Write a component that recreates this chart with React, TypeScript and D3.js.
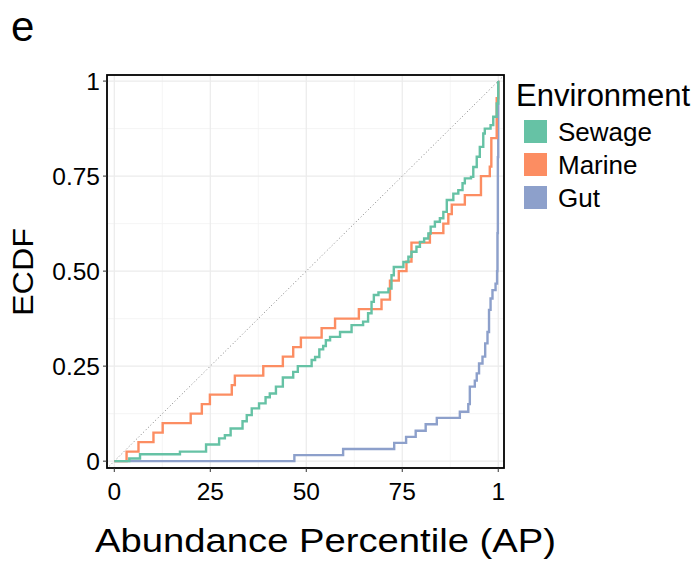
import React from "react";
import * as d3 from "d3";

// ---- Data ----
const xTickValues = [0, 25, 50, 75, 100];
const xTickLabels = ["0", "25", "50", "75", "1"];
const xMinorValues = [12.5, 37.5, 62.5, 87.5];
const yTickValues = [0, 0.25, 0.5, 0.75, 1];
const yTickLabels = ["0", "0.25", "0.50", "0.75", "1"];
const yMinorValues = [0.125, 0.375, 0.625, 0.875];

const environments = ["Sewage", "Marine", "Gut"];
const envColors = ["#66C2A5", "#FC8D62", "#8DA0CB"];

// ECDF step points: abundance percentile where the step occurs, ECDF after the step
const sewageAP = [0, 3.9, 6.7, 17.1, 23.9, 27.3, 28.8, 30.3, 33.4, 34.5, 35.8, 37.7, 39.4, 40.5, 42.1, 43.9, 46.6, 47.8, 51.4, 52.3, 53.4, 54.4, 55.1, 56.2, 58.8, 61.8, 64.8, 66.1, 67.0, 67.6, 68.8, 71.4, 72.2, 72.8, 75.3, 76.6, 77.4, 78.7, 79.6, 80.7, 81.8, 82.4, 83.5, 84.8, 85.7, 86.6, 88.3, 89.6, 90.7, 91.3, 92.9, 93.5, 94.4, 95.2, 96.1, 96.5, 98.0, 98.7, 99.6, 100];
const sewageECDF = [0, 0.007, 0.018, 0.025, 0.044, 0.06, 0.068, 0.086, 0.105, 0.121, 0.139, 0.152, 0.168, 0.178, 0.196, 0.22, 0.235, 0.25, 0.266, 0.274, 0.294, 0.303, 0.318, 0.327, 0.34, 0.358, 0.367, 0.389, 0.419, 0.437, 0.444, 0.454, 0.489, 0.511, 0.524, 0.538, 0.551, 0.564, 0.577, 0.586, 0.599, 0.617, 0.63, 0.639, 0.656, 0.687, 0.704, 0.713, 0.731, 0.744, 0.748, 0.774, 0.801, 0.827, 0.862, 0.875, 0.884, 0.906, 0.941, 1];

const marineAP = [0, 3.2, 6.3, 10.2, 12.6, 19.9, 22.8, 24.9, 30.6, 31.4, 38.8, 43.9, 46.6, 48.6, 54.0, 57.5, 63.7, 69.6, 71.8, 74.1, 76.1, 77.4, 82.2, 85.7, 87.0, 87.9, 91.3, 95.5, 97.8, 98.2, 99.6, 100];
const marineECDF = [0, 0.025, 0.05, 0.075, 0.1, 0.125, 0.15, 0.175, 0.2, 0.225, 0.25, 0.275, 0.3, 0.325, 0.35, 0.375, 0.4, 0.425, 0.475, 0.5, 0.525, 0.575, 0.6, 0.625, 0.65, 0.675, 0.7, 0.75, 0.775, 0.85, 0.955, 1];

const gutAP = [0, 46.9, 59.6, 72.9, 76.0, 78.5, 81.1, 84.0, 90.0, 92.2, 92.6, 93.9, 94.4, 95.0, 95.9, 96.6, 97.2, 97.6, 98.0, 98.5, 99.3, 99.7, 99.8, 99.9, 100];
const gutECDF = [0, 0.016, 0.032, 0.048, 0.064, 0.08, 0.097, 0.114, 0.13, 0.15, 0.196, 0.212, 0.231, 0.257, 0.275, 0.31, 0.34, 0.398, 0.428, 0.45, 0.467, 0.5, 0.6, 0.8, 1];

const seriesAP = [sewageAP, marineAP, gutAP];
const seriesECDF = [sewageECDF, marineECDF, gutECDF];

const FONT = "'Liberation Sans', Arial, Helvetica, sans-serif";

export default function App() {
  const W = 700, H = 562;
  const left = 107, right = 504, top = 75, bottom = 468;
  const x = d3.scaleLinear().domain([-1.9, 101.5]).range([left, right]);
  const y = d3.scaleLinear().domain([-0.018, 1.016]).range([bottom, top]);

  const line = d3
    .line<[number, number]>()
    .x((d) => x(d[0]))
    .y((d) => y(d[1]))
    .curve(d3.curveStepAfter);

  const straight = d3
    .line<[number, number]>()
    .x((d) => x(d[0]))
    .y((d) => y(d[1]));

  const [d0, d1] = x.domain();
  const ablinePts: [number, number][] = [
    [d0, d0 / 100],
    [d1, d1 / 100],
  ];

  // draw order: gut first, then marine, sewage on top
  const order = [2, 1, 0];

  return (
    <svg
      width={W}
      height={H}
      style={{ position: "absolute", left: 0, top: 0, background: "#fff" }}
      fontFamily={FONT}
    >
      <defs>
        <clipPath id="panel">
          <rect x={left} y={top} width={right - left} height={bottom - top} />
        </clipPath>
      </defs>
      <rect x={0} y={0} width={W} height={H} fill="#fff" />

      {/* grid */}
      <g stroke="#F2F2F2" strokeWidth={0.8}>
        {xMinorValues.map((v) => (
          <line key={"xm" + v} x1={x(v)} x2={x(v)} y1={top} y2={bottom} />
        ))}
        {yMinorValues.map((v) => (
          <line key={"ym" + v} x1={left} x2={right} y1={y(v)} y2={y(v)} />
        ))}
      </g>
      <g stroke="#EBEBEB" strokeWidth={1.2}>
        {xTickValues.map((v) => (
          <line key={"xg" + v} x1={x(v)} x2={x(v)} y1={top} y2={bottom} />
        ))}
        {yTickValues.map((v) => (
          <line key={"yg" + v} x1={left} x2={right} y1={y(v)} y2={y(v)} />
        ))}
      </g>

      <g clipPath="url(#panel)">
        <path
          d={straight(ablinePts)!}
          fill="none"
          stroke="#7F7F7F"
          strokeWidth={1}
          strokeDasharray="1 2.4"
        />
        {order.map((i) => {
          const pts: [number, number][] = seriesAP[i].map((a, k) => [a, seriesECDF[i][k]]);
          return (
            <path
              key={environments[i]}
              d={line(pts)!}
              fill="none"
              stroke={envColors[i]}
              strokeWidth={2.4}
              strokeLinejoin="miter"
            />
          );
        })}
      </g>

      {/* panel border */}
      <rect
        x={left}
        y={top}
        width={right - left}
        height={bottom - top}
        fill="none"
        stroke="#000"
        strokeWidth={1.8}
      />

      {/* y axis */}
      {yTickValues.map((v, i) => (
        <g key={"yt" + v}>
          <line x1={left - 4} x2={left} y1={y(v)} y2={y(v)} stroke="#333" strokeWidth={1} />
          <text
            x={left - 7}
            y={y(v)}
            textAnchor="end"
            dominantBaseline="central"
            fontSize={24.5}
            fill="#000"
          >
            {yTickLabels[i]}
          </text>
        </g>
      ))}

      {/* x axis */}
      {xTickValues.map((v, i) => (
        <g key={"xt" + v}>
          <line x1={x(v)} x2={x(v)} y1={bottom} y2={bottom + 4} stroke="#333" strokeWidth={1} />
          <text x={x(v)} y={500} textAnchor="middle" fontSize={24.5} fill="#000">
            {xTickLabels[i]}
          </text>
        </g>
      ))}

      {/* axis titles */}
      <text
        x={325.5}
        y={552}
        textAnchor="middle"
        fontSize={34}
        fill="#000"
        textLength={461}
        lengthAdjust="spacingAndGlyphs"
      >
        Abundance Percentile (AP)
      </text>
      <text
        transform="translate(33,272) rotate(-90)"
        textAnchor="middle"
        fontSize={30}
        fill="#000"
        textLength={88}
        lengthAdjust="spacingAndGlyphs"
      >
        ECDF
      </text>

      {/* tag */}
      <text x={11} y={41} fontSize={42} fill="#000">
        e
      </text>

      {/* legend */}
      <text x={516} y={105.5} fontSize={31} fill="#000">
        Environment
      </text>
      {environments.map((name, i) => (
        <g key={"lg" + name}>
          <rect x={524} y={120 + i * 33} width={23} height={23} fill={envColors[i]} />
          <text x={558} y={141 + i * 33} fontSize={26} fill="#000">
            {name}
          </text>
        </g>
      ))}
    </svg>
  );
}
